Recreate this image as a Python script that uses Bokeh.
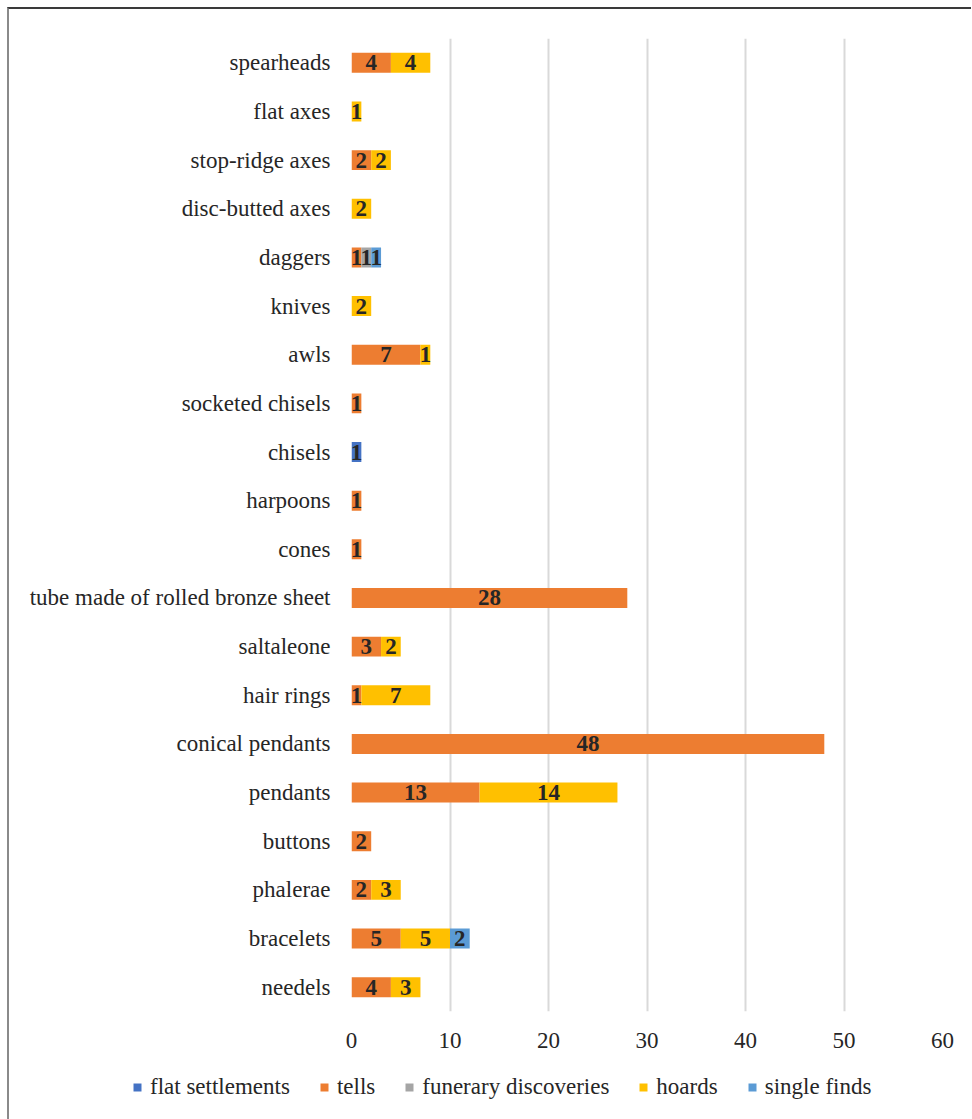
from bokeh.plotting import figure
from bokeh.models import FactorRange, Range1d, FixedTicker, Legend, LegendItem, ColumnDataSource
from bokeh.core.properties import value
from bokeh.embed import file_html
from bokeh.resources import INLINE

categories = ["spearheads", "flat axes", "stop-ridge axes", "disc-butted axes", "daggers",
              "knives", "awls", "socketed chisels", "chisels", "harpoons", "cones",
              "tube made of rolled bronze sheet", "saltaleone", "hair rings",
              "conical pendants", "pendants", "buttons", "phalerae", "bracelets", "needels"]
series = ["flat settlements", "tells", "funerary discoveries", "hoards", "single finds"]
flat_settlements = [0, 0, 0, 0, 0, 0, 0, 0, 1, 0, 0, 0, 0, 0, 0, 0, 0, 0, 0, 0]
tells =            [4, 0, 2, 0, 1, 0, 7, 1, 0, 1, 1, 28, 3, 1, 48, 13, 2, 2, 5, 4]
funerary =         [0, 0, 0, 0, 1, 0, 0, 0, 0, 0, 0, 0, 0, 0, 0, 0, 0, 0, 0, 0]
hoards =           [4, 1, 2, 2, 0, 2, 1, 0, 0, 0, 0, 0, 2, 7, 0, 14, 0, 3, 5, 3]
single_finds =     [0, 0, 0, 0, 1, 0, 0, 0, 0, 0, 0, 0, 0, 0, 0, 0, 0, 0, 2, 0]
colors = ["#4472C4", "#ED7D31", "#A5A5A5", "#FFC000", "#5B9BD5"]
x_ticks = [0, 10, 20, 30, 40, 50, 60]

FONT = "Liberation Serif"
FS = "23px"

data = {"cat": categories, "flat settlements": flat_settlements, "tells": tells,
        "funerary discoveries": funerary, "hoards": hoards, "single finds": single_finds}
src = ColumnDataSource(data)

p = figure(y_range=FactorRange(factors=list(reversed(categories))),
           x_range=Range1d(0, 60),
           output_backend="svg", toolbar_location=None,
           frame_width=591, frame_height=973,
           min_border_left=342, min_border_right=29, min_border_top=29, min_border_bottom=48,
           background_fill_color="white", border_fill_color="white")
p.styles = {"position": "absolute", "left": "7px", "top": "7px",
            "border-top": "2px solid #3a3a3a", "border-left": "2px solid #8a8a8a"}

renderers = p.hbar_stack(series, y="cat", height=0.41, color=colors, source=src, line_width=0)

# value labels
lx, ly, lt = [], [], []
cols = [flat_settlements, tells, funerary, hoards, single_finds]
for i, c in enumerate(categories):
    start = 0
    for s in cols:
        v = s[i]
        if v > 0:
            lx.append(start + v / 2)
            ly.append(c)
            lt.append(str(v))
        start += v
p.text(x=lx, y=ly, text=lt, text_align="center", text_baseline="middle",
       text_font=value(FONT), text_font_size=FS, text_font_style="bold", text_color="#262626")

p.outline_line_color = None
p.ygrid.grid_line_color = None
p.xgrid.grid_line_color = "#D9D9D9"
p.xgrid.grid_line_width = 2
p.xaxis.ticker = FixedTicker(ticks=x_ticks)
for ax in (p.xaxis, p.yaxis):
    ax.axis_line_color = None
    ax.major_tick_line_color = None
    ax.minor_tick_line_color = None
    ax.major_label_text_font = FONT
    ax.major_label_text_font_size = FS
    ax.major_label_text_color = "#262626"
p.xaxis.major_label_standoff = 15
p.yaxis.major_label_standoff = 15

# legend strip below the chart (separate root, placed absolutely)
pl = figure(x_range=Range1d(0, 1), y_range=Range1d(0, 1), output_backend="svg",
            toolbar_location=None, width=962, height=60,
            x_axis_location=None, y_axis_location=None,
            min_border_left=0, min_border_right=0, min_border_top=0, min_border_bottom=0,
            background_fill_color="white", border_fill_color="white")
pl.styles = {"position": "absolute", "left": "7px", "top": "1059px",
             "border-left": "2px solid #8a8a8a"}
pl.grid.visible = False
pl.outline_line_color = None
# off-range swatch renderers used only for the legend keys
dummy = [pl.hbar(y=[-5], left=[-5], right=[-4], height=1, color=c, line_width=0) for c in colors]
legend = Legend(items=[LegendItem(label=s, renderers=[r]) for s, r in zip(series, dummy)],
                orientation="horizontal", location=(123, 19),
                label_text_font=FONT, label_text_font_size=FS, label_text_color="#262626",
                glyph_width=10, glyph_height=10, label_standoff=8, spacing=29,
                border_line_color=None, background_fill_alpha=0, padding=0, margin=0)
pl.add_layout(legend, "center")

open("out.html", "w").write(file_html([p, pl], INLINE))
